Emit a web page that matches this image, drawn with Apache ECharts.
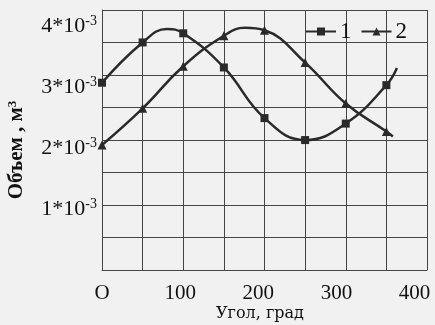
<!DOCTYPE html>
<html>
<head>
<meta charset="utf-8">
<script src="https://cdn.jsdelivr.net/npm/echarts@6/dist/echarts.min.js"></script>
<style>
html,body{margin:0;padding:0;background:#f1f1f1;}
#c{width:435px;height:325px;}
</style>
</head>
<body>
<div id="c"></div>
<script>
// Angle (deg) of points; markers sit on the 50-degree grid
const angles1 = [0, 50, 80, 100, 150, 200, 250, 300, 350, 363];
const volume1 = [3.07, 3.73, 3.95, 3.88, 3.32, 2.49, 2.13, 2.40, 3.03, 3.31];
const angles2 = [0, 50, 100, 150, 176, 200, 250, 300, 350, 358];
const volume2 = [2.05, 2.65, 3.34, 3.84, 3.97, 3.93, 3.40, 2.73, 2.27, 2.19];
// Axis tick labels
const xTickLabels = ['O', '100', '200', '300', '400'];
const yTickLabels = [1, 2, 3, 4];
const seriesNames = ['1', '2'];

const serif = 'Liberation Serif';
const ink = '#2a2a2a';
const gridColor = '#454545';

function build(xs, ys) {
  return xs.map((x, i) => (x % 50 === 0)
    ? [x, ys[i]]
    : { value: [x, ys[i]], symbol: 'none' });
}

const chart = echarts.init(document.getElementById('c'));
chart.setOption({
  backgroundColor: '#f1f1f1',
  animation: false,
  grid: { left: 102, top: 10, width: 325, height: 260 },
  legend: {
    data: seriesNames,
    left: 305, top: 20, padding: 0,
    itemWidth: 30, itemHeight: 10, itemGap: 9,
    textStyle: { fontFamily: serif, fontSize: 23, color: '#111', padding: [0, 0, 0, -1] }
  },
  xAxis: [
    {
      type: 'value', position: 'bottom', min: 0, max: 416, interval: 100,
      axisLine: { show: false }, axisTick: { show: false }, splitLine: { show: false },
      axisLabel: {
        margin: 13, fontFamily: serif, fontSize: 21, color: '#111',
        formatter: v => (v % 100 === 0 && v / 100 < xTickLabels.length) ? xTickLabels[v / 100] : ''
      }
    },
    {
      type: 'value', position: 'top', min: 0, max: 400, interval: 50,
      axisLine: { show: true, lineStyle: { color: gridColor, width: 1 } },
      axisTick: { show: false }, axisLabel: { show: false },
      splitLine: { show: true, lineStyle: { color: gridColor, width: 1 } }
    }
  ],
  yAxis: [
    {
      type: 'value', position: 'left', min: 0, max: 4.262, interval: 1,
      axisLine: { show: false }, axisTick: { show: false }, splitLine: { show: false },
      axisLabel: {
        margin: 5, color: '#111',
        formatter: v => yTickLabels.indexOf(v) >= 0 ? '{a|' + v + '*10}{b|-3}' : '',
        rich: {
          a: { fontFamily: serif, fontSize: 22, color: '#111', lineHeight: 23, verticalAlign: 'bottom' },
          b: { fontFamily: serif, fontSize: 14, color: '#111', verticalAlign: 'top', padding: [0, 0, 8, 0] }
        }
      }
    },
    {
      type: 'value', position: 'right', min: 0, max: 8, interval: 1,
      axisLine: { show: true, lineStyle: { color: gridColor, width: 1 } },
      axisTick: { show: false }, axisLabel: { show: false },
      splitLine: { show: true, lineStyle: { color: gridColor, width: 1 } }
    }
  ],
  graphic: [
    {
      type: 'text', x: 17, y: 150, rotation: Math.PI / 2,
      style: {
        text: '{t|Объем , м}{s|3}', align: 'center', verticalAlign: 'middle',
        rich: {
          t: { fontFamily: serif, fontWeight: 'bold', fontSize: 21, fill: '#111' },
          s: { fontFamily: serif, fontWeight: 'bold', fontSize: 13, fill: '#111', verticalAlign: 'top', padding: [0, 0, 9, 0] }
        }
      }
    },
    {
      type: 'text', x: 260, y: 314,
      style: {
        text: 'Угол, град', align: 'center', verticalAlign: 'middle',
        fontFamily: 'DejaVu Serif', fontSize: 16, fill: '#111'
      }
    }
  ],
  series: [
    {
      name: seriesNames[0], type: 'line', xAxisIndex: 1, yAxisIndex: 0,
      data: build(angles1, volume1), smooth: 0.45,
      symbol: 'rect', symbolSize: 8,
      lineStyle: { color: ink, width: 2.5 }, itemStyle: { color: ink }
    },
    {
      name: seriesNames[1], type: 'line', xAxisIndex: 1, yAxisIndex: 0,
      data: build(angles2, volume2), smooth: 0.45,
      symbol: 'triangle', symbolSize: 9,
      lineStyle: { color: ink, width: 2.5 }, itemStyle: { color: ink }
    }
  ]
});
</script>
</body>
</html>
